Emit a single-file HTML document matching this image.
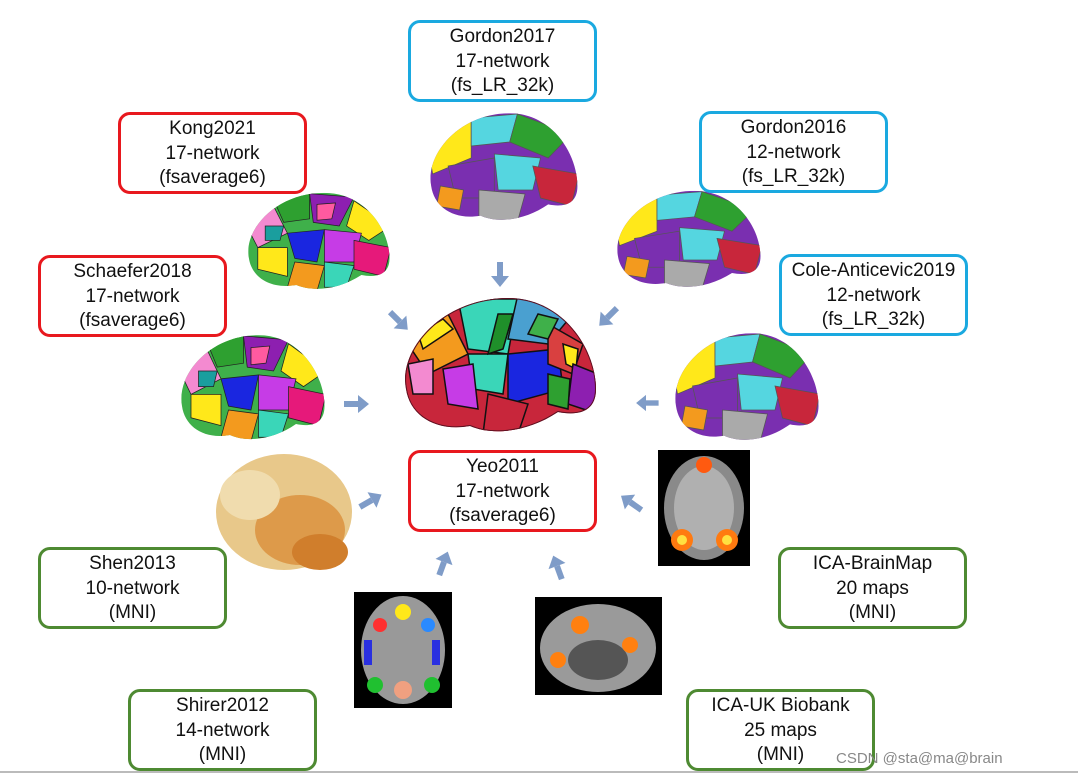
<!DOCTYPE html>
<html><head><meta charset="utf-8"><style>
body{margin:0;width:1078px;height:775px;background:#fff;position:relative;overflow:hidden;font-family:"Liberation Sans",sans-serif}
.b{position:absolute;width:183px;height:74px;border:3px solid;border-radius:12px;text-align:center;font-size:19px;line-height:24.5px;padding-top:2px;box-sizing:content-box;color:#111}
.r{border-color:#e8181e}.u{border-color:#1aa9e0}.g{border-color:#4e8a32}
svg{position:absolute;left:0;top:0}
</style></head><body>
<svg width="1078" height="775" viewBox="0 0 1078 775">
<defs>
<path id="br" d="M8,95 C0,55 45,4 110,4 C165,4 198,55 198,95 C198,118 180,122 160,118 C130,138 95,142 72,132 C38,138 12,122 8,95Z"/>
<clipPath id="bc"><use href="#br"/></clipPath>
<g id="pa" clip-path="url(#bc)" stroke="#111" stroke-width="1.5">
<rect x="0" y="0" width="210" height="150" fill="#c8263b"/>
<polygon points="60,5 120,5 110,60 70,55" fill="#3ad6b8"/>
<polygon points="120,0 175,20 150,50 110,45" fill="#4aa0d0"/>
<polygon points="10,50 50,20 70,60 30,80" fill="#f39a1e"/>
<polygon points="20,40 45,25 55,35 25,55" fill="#ffe81a"/>
<polygon points="70,60 110,60 105,100 75,95" fill="#3ad6b8"/>
<polygon points="110,60 160,55 165,95 110,110" fill="#1a26e0"/>
<polygon points="150,30 185,50 175,80 150,70" fill="#d94040"/>
<polygon points="165,50 180,55 178,75 168,70" fill="#ffe81a"/>
<polygon points="175,70 200,80 200,120 170,110" fill="#8d1fb0"/>
<polygon points="45,75 75,70 80,115 50,110" fill="#c63ce6"/>
<polygon points="10,70 35,65 35,100 15,100" fill="#f38ad0"/>
<polygon points="100,20 115,20 105,55 90,60" fill="#1f8f2a"/>
<polygon points="140,20 160,25 150,45 130,40" fill="#3fb04a"/>
<polygon points="90,100 130,110 120,140 85,140" fill="#c8263b"/>
<polygon points="150,80 172,85 170,115 150,110" fill="#2ea030"/>
<use href="#br" fill="none" stroke="#5a1020" stroke-width="2"/>
</g>
<g id="pb" clip-path="url(#bc)" stroke="#222" stroke-width="1">
<rect x="0" y="0" width="210" height="150" fill="#3fb04a"/>
<polygon points="0,40 40,20 60,60 20,80" fill="#f38ad0"/>
<polygon points="40,10 90,5 90,40 55,45" fill="#2ea030"/>
<polygon points="90,5 150,10 130,50 95,45" fill="#8d1fb0"/>
<polygon points="150,15 200,50 170,70 140,50" fill="#ffe81a"/>
<polygon points="60,60 110,55 100,100 70,95" fill="#1a26e0"/>
<polygon points="110,55 160,60 150,100 110,100" fill="#c63ce6"/>
<polygon points="20,80 60,80 60,120 20,110" fill="#ffe81a"/>
<polygon points="150,70 200,80 190,120 150,110" fill="#e6197a"/>
<polygon points="70,100 110,105 100,140 60,135" fill="#f39a1e"/>
<polygon points="110,100 150,105 140,135 110,135" fill="#3ad6b8"/>
<polygon points="100,20 125,18 120,40 100,42" fill="#ff5aa0"/>
<polygon points="30,50 55,50 50,70 30,70" fill="#1a9e9e"/>
</g>
<g id="pc" clip-path="url(#bc)" stroke="#555" stroke-width="1">
<rect x="0" y="0" width="210" height="150" fill="#7a2fb0"/>
<polygon points="0,30 60,10 60,60 10,80" fill="#ffe81a"/>
<polygon points="60,10 120,5 110,40 60,45" fill="#55d6e0"/>
<polygon points="120,5 190,30 160,60 110,40" fill="#2ea030"/>
<polygon points="30,70 90,60 90,110 40,110" fill="#7a2fb0"/>
<polygon points="90,55 150,60 140,100 95,100" fill="#55d6e0"/>
<polygon points="140,70 200,80 190,120 150,110" fill="#c8263b"/>
<polygon points="70,100 130,105 120,140 70,140" fill="#aaaaaa"/>
<polygon points="20,95 50,100 45,125 15,120" fill="#f39a1e"/>
</g>
<g id="ar" fill="#7f9cc8"><rect x="-3" y="-14" width="6" height="14"/><polygon points="-9,0 9,0 0,11"/></g>
</defs>
<g transform="translate(398,294)"><use href="#pa"/></g>
<g transform="translate(425,110) scale(0.77,0.8)"><use href="#pc"/></g>
<g transform="translate(243,190) scale(0.74,0.72)"><use href="#pb"/></g>
<g transform="translate(612,188) scale(0.75,0.72)"><use href="#pc"/></g>
<g transform="translate(176,332) scale(0.75,0.78)"><use href="#pb"/></g>
<g transform="translate(670,330) scale(0.75,0.8)"><use href="#pc"/></g>
<ellipse cx="284" cy="512" rx="68" ry="58" fill="#e8c88a"/>
<ellipse cx="300" cy="530" rx="45" ry="35" fill="#dd9a4a"/>
<ellipse cx="250" cy="495" rx="30" ry="25" fill="#f0dcae"/>
<ellipse cx="320" cy="552" rx="28" ry="18" fill="#d07e2c"/>
<rect x="658" y="450" width="92" height="116" fill="#000"/>
<ellipse cx="704" cy="508" rx="40" ry="52" fill="#8a8a8a"/>
<ellipse cx="704" cy="508" rx="30" ry="42" fill="#b0b0b0"/>
<circle cx="704" cy="465" r="8" fill="#ff5a10"/>
<circle cx="682" cy="540" r="11" fill="#ff7a10"/><circle cx="682" cy="540" r="5" fill="#ffe040"/>
<circle cx="727" cy="540" r="11" fill="#ff7a10"/><circle cx="727" cy="540" r="5" fill="#ffe040"/>
<rect x="354" y="592" width="98" height="116" fill="#000"/>
<ellipse cx="403" cy="650" rx="42" ry="54" fill="#999"/>
<circle cx="403" cy="612" r="8" fill="#ffe81a"/>
<circle cx="380" cy="625" r="7" fill="#ff3030"/><circle cx="428" cy="625" r="7" fill="#2a8aff"/>
<rect x="364" y="640" width="8" height="25" fill="#2a30e0"/><rect x="432" y="640" width="8" height="25" fill="#2a30e0"/>
<circle cx="375" cy="685" r="8" fill="#20c030"/><circle cx="432" cy="685" r="8" fill="#20c030"/>
<circle cx="403" cy="690" r="9" fill="#f0a080"/>
<rect x="535" y="597" width="127" height="98" fill="#000"/>
<ellipse cx="598" cy="648" rx="58" ry="44" fill="#9a9a9a"/>
<ellipse cx="598" cy="660" rx="30" ry="20" fill="#555"/>
<circle cx="580" cy="625" r="9" fill="#ff8010"/><circle cx="630" cy="645" r="8" fill="#ff8010"/>
<circle cx="558" cy="660" r="8" fill="#ff8010"/>
<use href="#ar" transform="translate(500,276)"/>
<use href="#ar" transform="translate(400,322) rotate(-45)"/>
<use href="#ar" transform="translate(607,318) rotate(45)"/>
<use href="#ar" transform="translate(358,404) rotate(-90)"/>
<use href="#ar" transform="translate(646,403) rotate(90) scale(0.9)"/>
<use href="#ar" transform="translate(372,500) rotate(-120)"/>
<use href="#ar" transform="translate(444,562) rotate(-160)"/>
<use href="#ar" transform="translate(557,566) rotate(160)"/>
<use href="#ar" transform="translate(630,502) rotate(125)"/>
<line x1="0" y1="772" x2="1078" y2="772" stroke="#bbb" stroke-width="2"/>
</svg>
<div class="b u" style="left:408px;top:20px">Gordon2017<br>17-network<br>(fs_LR_32k)</div>
<div class="b r" style="left:118px;top:112px">Kong2021<br>17-network<br>(fsaverage6)</div>
<div class="b u" style="left:699px;top:111px">Gordon2016<br>12-network<br>(fs_LR_32k)</div>
<div class="b r" style="left:38px;top:255px">Schaefer2018<br>17-network<br>(fsaverage6)</div>
<div class="b u" style="left:779px;top:254px">Cole-Anticevic2019<br>12-network<br>(fs_LR_32k)</div>
<div class="b r" style="left:408px;top:450px">Yeo2011<br>17-network<br>(fsaverage6)</div>
<div class="b g" style="left:38px;top:547px">Shen2013<br>10-network<br>(MNI)</div>
<div class="b g" style="left:778px;top:547px">ICA-BrainMap<br>20 maps<br>(MNI)</div>
<div class="b g" style="left:128px;top:689px">Shirer2012<br>14-network<br>(MNI)</div>
<div class="b g" style="left:686px;top:689px">ICA-UK Biobank<br>25 maps<br>(MNI)</div>
<div style="position:absolute;left:836px;top:750px;font-size:15px;color:#888">CSDN @sta@ma@brain</div>
</body></html>
